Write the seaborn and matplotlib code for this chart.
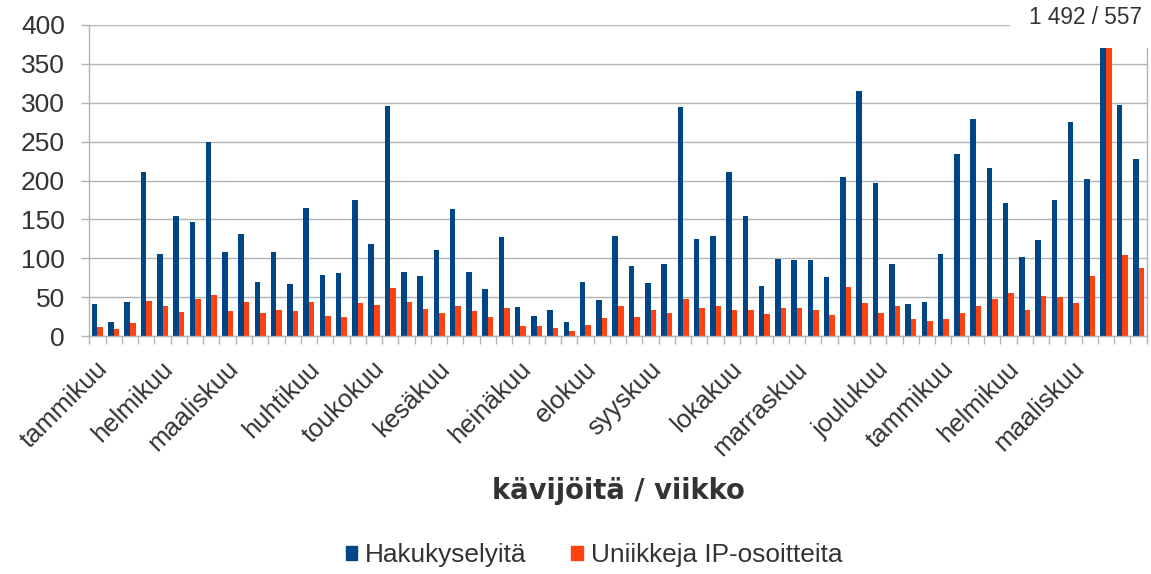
import pandas as pd
import numpy as np
import matplotlib.pyplot as plt
import matplotlib.transforms as mtransforms
from matplotlib.patches import Rectangle, Patch
import seaborn as sns

# viikoittaiset arvot (65 viikkoa)
hakukyselyt = [41, 18, 44, 211, 105, 154, 147, 250, 108, 131, 69, 108, 67, 165, 79, 81,
               175, 118, 296, 82, 77, 111, 163, 82, 60, 127, 37, 26, 33, 18, 69, 46,
               129, 90, 68, 93, 295, 125, 129, 211, 154, 64, 99, 98, 98, 76, 204, 315,
               197, 93, 41, 44, 106, 234, 279, 216, 171, 101, 124, 175, 275, 202, 1492,
               297, 228]
ip_osoitteet = [12, 9, 17, 45, 39, 31, 48, 53, 32, 44, 30, 33, 32, 44, 26, 24,
                42, 40, 62, 44, 35, 29, 39, 32, 24, 36, 13, 13, 10, 7, 14, 23,
                39, 24, 33, 29, 47, 36, 38, 34, 34, 28, 36, 36, 33, 27, 63, 42,
                29, 39, 22, 19, 22, 29, 39, 47, 55, 34, 52, 50, 42, 77, 557,
                104, 87]

kuukaudet = ['tammikuu', 'helmikuu', 'maaliskuu', 'huhtikuu', 'toukokuu', 'kesäkuu',
             'heinäkuu', 'elokuu', 'syyskuu', 'lokakuu', 'marraskuu', 'joulukuu',
             'tammikuu', 'helmikuu', 'maaliskuu']
kuukausi_viikko = [0, 4, 8, 13, 17, 21, 26, 30, 34, 39, 43, 48, 52, 56, 60]

sarjat = ['Hakukyselyitä', 'Uniikkeja IP-osoitteita']
varit = ['#004586', '#ff420e']
harmaa = '#b3b3b3'
teksti = '#333333'

n = len(hakukyselyt)
df = pd.DataFrame({
    'viikko': list(range(n)) * 2,
    'arvo': hakukyselyt + ip_osoitteet,
    'sarja': [sarjat[0]] * n + [sarjat[1]] * n,
})

sns.set_theme(style='white')
plt.rcParams['font.family'] = ['Liberation Sans', 'DejaVu Sans']

fig = plt.figure(figsize=(11.51, 5.74), dpi=100)
ax = fig.add_axes([89.3 / 1151, 1 - 336 / 574, (1146.7 - 89.3) / 1151, 311 / 574])

sns.barplot(data=df, x='viikko', y='arvo', hue='sarja', palette=varit, width=0.68,
            gap=0, linewidth=0, saturation=1, ax=ax, legend=False, errorbar=None)

ax.set_xlim(-0.5, n - 0.5)
ax.set_ylim(0, 400)
ax.set_yticks(range(0, 401, 50))
ax.yaxis.grid(True, color=harmaa, lw=1)
ax.set_axisbelow(True)
ax.set_ylabel('')

for s in ['left', 'bottom', 'right']:
    ax.spines[s].set_color(harmaa)
    ax.spines[s].set_linewidth(1)
ax.spines['top'].set_visible(False)

ax.tick_params(axis='y', length=5.5, color=harmaa, width=1, labelsize=19,
               labelcolor=teksti, pad=12, left=True)

# viikkorajat pieninä tikkeinä, kuukausien nimet isoina
ax.set_xticks(np.arange(-0.5, n, 1), minor=True)
ax.tick_params(axis='x', which='minor', length=5.5, color=harmaa, width=1, bottom=True)
ax.set_xticks(kuukausi_viikko)
ax.set_xticklabels(kuukaudet, rotation=45, ha='right', va='top')
ax.tick_params(axis='x', which='major', length=0, labelsize=18.6, labelcolor=teksti, pad=15)
siirto = mtransforms.ScaledTranslation(11 / 72, 0, fig.dpi_scale_trans)
for lab in ax.get_xticklabels():
    lab.set_transform(lab.get_transform() + siirto)

ax.set_xlabel('kävijöitä / viikko', fontfamily='DejaVu Sans', fontweight='bold',
              fontsize=19.8, color=teksti, va='center')
ax.xaxis.set_label_coords(0.5, (336 - 491) / 311)

kahvat = [Patch(color=c, label=l) for c, l in zip(varit, sarjat)]
leg = fig.legend(handles=kahvat, loc='center', bbox_to_anchor=(594 / 1151, 1 - 555 / 574),
                 ncol=2, frameon=False, fontsize=18.9, handlelength=0.45, handleheight=0.45,
                 handletextpad=0.3, columnspacing=1.7)
for t in leg.get_texts():
    t.set_color(teksti)

# valkoinen laatikko oikeassa yläkulmassa
fig.add_artist(Rectangle((1010 / 1151, 1 - 48 / 574), 1, 1, transform=fig.transFigure,
                         facecolor='white', edgecolor='none', zorder=5))
fig.text(1142 / 1151, 1 - 18 / 574, '1 492 / 557', ha='right', va='center',
         fontsize=16.3, color=teksti, zorder=6)

fig.savefig('out.png', dpi=100)
